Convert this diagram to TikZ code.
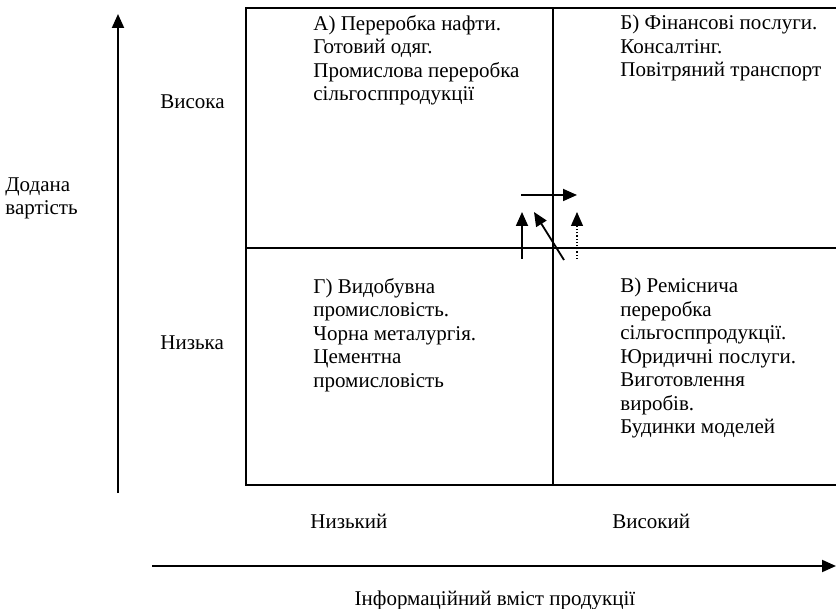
\documentclass[tikz,border=0pt]{standalone}
\usepackage{fontspec}
\setmainfont{Liberation Serif}
\usetikzlibrary{arrows.meta}

\tikzset{
	lbl/.style={inner sep=0pt, font=\fontsize{10.5}{11.75}\selectfont},
	quad/.style={lbl, anchor=north west, align=left},
	axis/.style={line width=1pt, -{Triangle[length=7pt,width=6pt]}},
	move/.style={line width=0.9pt, -{Triangle[length=7pt,width=6pt]}}
}

\begin{document}
\begin{tikzpicture}[x=0.5pt,y=-0.5pt]
	\useasboundingbox (0,0) rectangle (836,609);

	% axes
	\coordinate (vlow) at (118,493);
	\coordinate (vtop) at (118,14);
	\coordinate (hleft) at (152,566);
	\coordinate (hright) at (836,566);
	\draw[axis] (vlow) -- (vtop);
	\draw[axis] (hleft) -- (hright);

	% matrix
	\draw[line width=1pt] (246,8) rectangle (842,485);
	\draw[line width=1pt] (553,8) -- (553,485);
	\draw[line width=1pt] (246,248) -- (842,248);

	\node[lbl, anchor=west] (high) at (160,102) {Висока};
	\node[lbl, anchor=west] (low) at (160,343) {Низька};
	\node[lbl, anchor=north west, align=left] (vname) at (5,177) {Додана\\вартість};
	\node[lbl, anchor=west] (xlow) at (310,521) {Низький};
	\node[lbl, anchor=west] (xhigh) at (612,521) {Високий};
	\node[lbl] (hname) at (495,600) {Інформаційний вміст продукції};

	\node[quad] (qa) at (313,15) {А) Переробка нафти.\\Готовий одяг.\\Промислова переробка\\сільгосппродукції};
	\node[quad] (qb) at (620,15) {Б) Фінансові послуги.\\Консалтінг.\\Повітряний транспорт};
	\node[quad] (qg) at (313,278) {Г) Видобувна\\промисловість.\\Чорна металургія.\\Цементна\\промисловість};
	\node[quad] (qv) at (620,278) {В) Реміснича\\переробка\\сільгосппродукції.\\Юридичні послуги.\\Виготовлення\\виробів.\\Будинки моделей};

	% shifts between quadrants
	\coordinate (r0) at (521,195);
	\coordinate (r1) at (577,195);
	\coordinate (u0) at (522,259);
	\coordinate (u1) at (522,212);
	\coordinate (d0) at (564,260);
	\coordinate (d1) at (534,212);
	\coordinate (p0) at (577,259);
	\coordinate (p1) at (577,212);
	\draw[move] (r0) -- (r1);
	\draw[move] (u0) -- (u1);
	\draw[move] (d0) -- (d1);
	\draw[move, line width=0.6pt, densely dotted] (p0) -- (p1);

\end{tikzpicture}
\end{document}
